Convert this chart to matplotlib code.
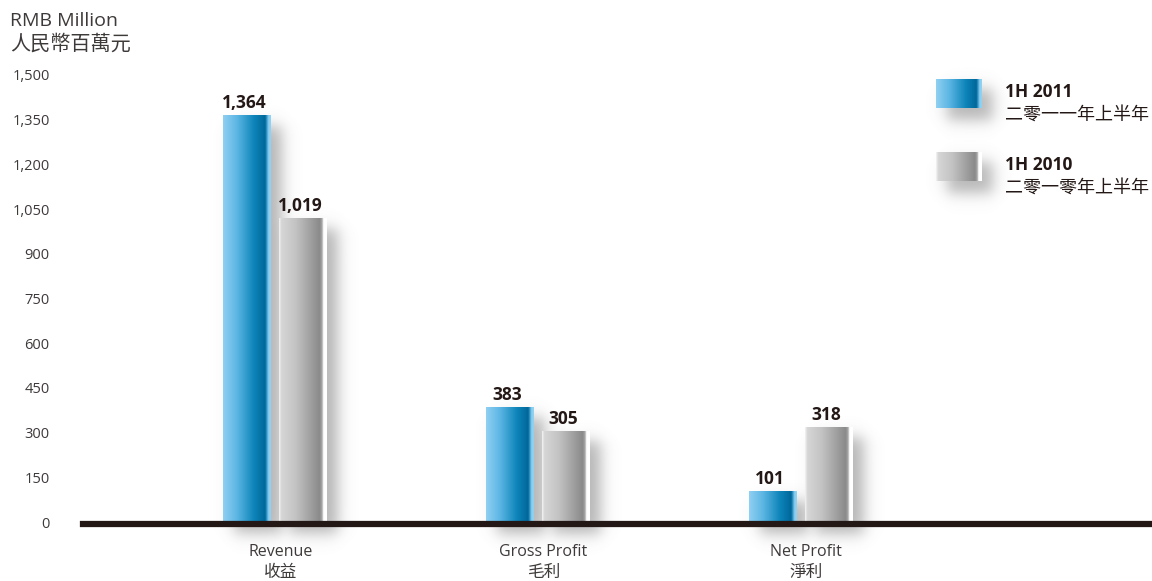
import numpy as np
import matplotlib
matplotlib.use("Agg")
import matplotlib.pyplot as plt
from matplotlib.colors import LinearSegmentedColormap
from matplotlib.lines import Line2D

categories_en = ["Revenue", "Gross Profit", "Net Profit"]
categories_zh = ["收益", "毛利", "淨利"]
values_2011 = [1364, 383, 101]
values_2010 = [1019, 305, 318]
series_en = ["1H 2011", "1H 2010"]
series_zh = ["二零一一年上半年", "二零一零年上半年"]
yticks = list(range(0, 1501, 150))

plt.rcParams['font.family'] = ['Open Sans', 'Noto Sans CJK TC', 'DejaVu Sans']

W, H = 1152, 581
TXT = '#3e3a39'
DARK = '#231815'

blue_cmap = LinearSegmentedColormap.from_list('blue', [
    (0.0, '#90d0f2'), (0.3, '#5ab5e3'), (0.65, '#0d84b9'),
    (0.88, '#00679a'), (0.91, '#2f90c2'), (0.95, '#88cdf1'), (1.0, '#92d3f3')])
gray_cmap = LinearSegmentedColormap.from_list('gray', [
    (0.0, '#f4f4f4'), (0.05, '#d6d6d6'), (0.35, '#c3c3c3'), (0.85, '#8a8a8a'),
    (0.9, '#a8a8a8'), (0.93, '#ffffff'), (1.0, '#ffffff')])


def shadow(ax, x0, w, h, sx, sy, z=1):
    # soft drop shadow, offset right/down; sx, sy = pixels per data unit
    dx, dy, blur = 11 / sx, 10 / sy, 9.0
    a, b = x0 + dx, x0 + w + dx
    top, bot = h - dy, -12 / sy
    X0, X1 = a - 3 * blur / sx, b + 3 * blur / sx
    Y0, Y1 = bot - 3 * blur / sy, top + 3 * blur / sy
    xs = np.linspace(X0, X1, 120)
    ys = np.linspace(Y1, Y0, 200)
    fx = 0.5 * (np.tanh((xs - a) * sx / blur) - np.tanh((xs - b) * sx / blur))
    fy = 0.5 * (np.tanh((ys - bot) * sy / blur) - np.tanh((ys - top) * sy / blur))
    alpha = 0.5 * np.outer(fy, fx)
    img = np.zeros((len(ys), len(xs), 4))
    img[..., :3] = 0.42
    img[..., 3] = alpha
    ax.imshow(img, extent=[X0, X1, Y0, Y1], aspect='auto', zorder=z,
              interpolation='bilinear', clip_on=False)


def grad_bar(ax, x0, w, h, cmap, z=3):
    grad = np.linspace(0, 1, 256).reshape(1, -1)
    ax.imshow(grad, cmap=cmap, extent=[x0, x0 + w, 0, h], aspect='auto',
              zorder=z, interpolation='bilinear', clip_on=False)


fig = plt.figure(figsize=(W / 100, H / 100), dpi=100)
ax = fig.add_axes([83 / W, (H - 522) / H, (W - 83) / W, 447 / H])

xmin, xmax = -0.73, 3.335
sx = (W - 83) / (xmax - xmin)
sy = 447 / 1500
width = 0.182
offset = 0.107

for i in range(len(categories_en)):
    for vals, cmap, off in ((values_2011, blue_cmap, -offset), (values_2010, gray_cmap, offset)):
        x0 = i + off - width / 2
        shadow(ax, x0, width, vals[i], sx, sy)
        grad_bar(ax, x0, width, vals[i], cmap)
        ax.text(i + off - 0.01, vals[i] + 12, f"{vals[i]:,}", ha='center', va='bottom',
                fontsize=12.5, fontweight='bold', color=DARK, zorder=5)
    ax.text(i + 0.02, -100, categories_en[i], ha='center', va='center', fontsize=11.5, color=TXT)
    ax.text(i + 0.02, -172, categories_zh[i], ha='center', va='center', fontsize=12, color=TXT)

ax.set_xlim(xmin, xmax)
ax.set_ylim(0, 1500)
ax.set_yticks(yticks)
ax.set_yticklabels([f"{v:,}" for v in yticks], fontsize=10.5, color=TXT)
ax.set_xticks([])
ax.tick_params(axis='y', length=0, pad=24)
for s in ax.spines.values():
    s.set_visible(False)

# baseline
fig.add_artist(Line2D([83 / W, 1.0], [(H - 524) / H] * 2, color=DARK, lw=4.5, zorder=6))

# unit title
fig.text(10 / W, 1 - 21 / H, "RMB Million", fontsize=14, color=TXT, va='center', ha='left')
fig.text(10 / W, 1 - 45 / H, "人民幣百萬元", fontsize=14.5, color=TXT, va='center', ha='left')

# legend
for k, (cmap, ytop) in enumerate(((blue_cmap, 79), (gray_cmap, 152))):
    lax = fig.add_axes([936 / W, (H - ytop - 29) / H, 46 / W, 29 / H])
    lax.set_xlim(0, 1)
    lax.set_ylim(0, 1)
    shadow(lax, 0, 1, 1, 46, 29)
    grad_bar(lax, 0, 1, 1, cmap)
    lax.axis('off')
    fig.text(1005 / W, 1 - (ytop + 13) / H, series_en[k], fontsize=12.5, fontweight='bold',
             color=DARK, va='center', ha='left')
    fig.text(1005 / W, 1 - (ytop + 36) / H, series_zh[k], fontsize=13,
             color=DARK, va='center', ha='left')

fig.savefig("out.png", dpi=100)
